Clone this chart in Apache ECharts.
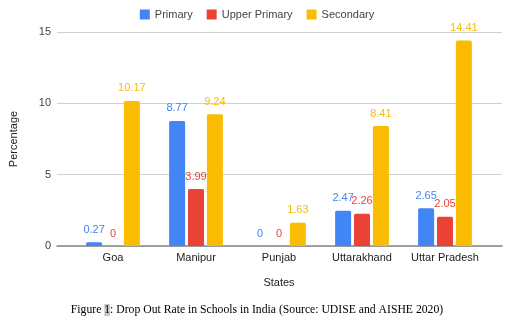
<!DOCTYPE html>
<html><head><meta charset="utf-8">
<script src="https://cdn.jsdelivr.net/npm/echarts@6/dist/echarts.min.js"></script>
<style>html,body{margin:0;padding:0;background:#fff}#c{width:514px;height:326px}</style>
</head><body><div id="c"></div>
<script>
const categories = ['Goa', 'Manipur', 'Punjab', 'Uttarakhand', 'Uttar Pradesh'];
const primary = [0.27, 8.77, 0, 2.47, 2.65];
const upperPrimary = [0, 3.99, 0, 2.26, 2.05];
const secondary = [10.17, 9.24, 1.63, 8.41, 14.41];
const yTicks = [0, 5, 10, 15];

const font = 'Liberation Sans, Arial, sans-serif';
const chart = echarts.init(document.getElementById('c'), null, {renderer: 'canvas'});
function series(name, data, color) {
  return {
    name, type: 'bar', data, xAxisIndex: 1, yAxisIndex: 1,
    barWidth: 16, barGap: '18%',
    itemStyle: {color, borderRadius: [1.5, 1.5, 0, 0]},
    label: {show: true, position: 'top', distance: 7, color, fontFamily: font, fontSize: 11},
    animation: false
  };
}
chart.setOption({
  animation: false,
  textStyle: {fontFamily: font},
  legend: {
    top: 4, left: 'center', icon: 'rect', itemWidth: 10, itemHeight: 10, itemGap: 14,
    textStyle: {fontSize: 11, color: '#444', fontFamily: font},
    data: ['Primary', 'Upper Primary', 'Secondary']
  },
  grid: [
    {left: 57, right: 12, top: 32, height: 214},
    {left: 71.5, width: 415, top: 32, height: 214}
  ],
  xAxis: [
    {type: 'value', gridIndex: 0, min: 0, max: 1, axisLabel: {show: false}, axisTick: {show: false},
     splitLine: {show: false}, axisLine: {show: true, lineStyle: {color: '#888', width: 1.5}}},
    {type: 'category', gridIndex: 1, data: categories, axisLine: {show: false}, axisTick: {show: false},
     axisLabel: {color: '#222', fontSize: 11, margin: 6, interval: 0, fontFamily: font},
     name: 'States', nameLocation: 'middle', nameGap: 31,
     nameTextStyle: {color: '#222', fontSize: 11, fontFamily: font}}
  ],
  yAxis: [
    {type: 'value', gridIndex: 0, min: yTicks[0], max: yTicks[yTicks.length - 1], interval: 5,
     axisLine: {show: false}, axisTick: {show: false},
     axisLabel: {color: '#444', fontSize: 11, margin: 6, fontFamily: font},
     splitLine: {lineStyle: {color: '#d0d0d0', width: 1}},
     name: 'Percentage', nameLocation: 'middle', nameGap: 38,
     nameTextStyle: {color: '#222', fontSize: 11, fontFamily: font}},
    {type: 'value', gridIndex: 1, min: 0, max: 15, show: false}
  ],
  series: [
    series('Primary', primary, '#4285F4'),
    series('Upper Primary', upperPrimary, '#EA4335'),
    series('Secondary', secondary, '#FBBC04')
  ],
  graphic: [{
    type: 'text', left: 'center', top: 304,
    style: {
      text: 'Figure {h|1}: Drop Out Rate in Schools in India (Source: UDISE and AISHE 2020)',
      fontFamily: 'Liberation Serif, Times New Roman, serif', fontSize: 11.7, fill: '#000',
      rich: {h: {backgroundColor: '#c8c8c8', fontFamily: 'Liberation Serif, serif', fontSize: 11.7, fill: '#000'}}
    }
  }]
});
</script></body></html>
